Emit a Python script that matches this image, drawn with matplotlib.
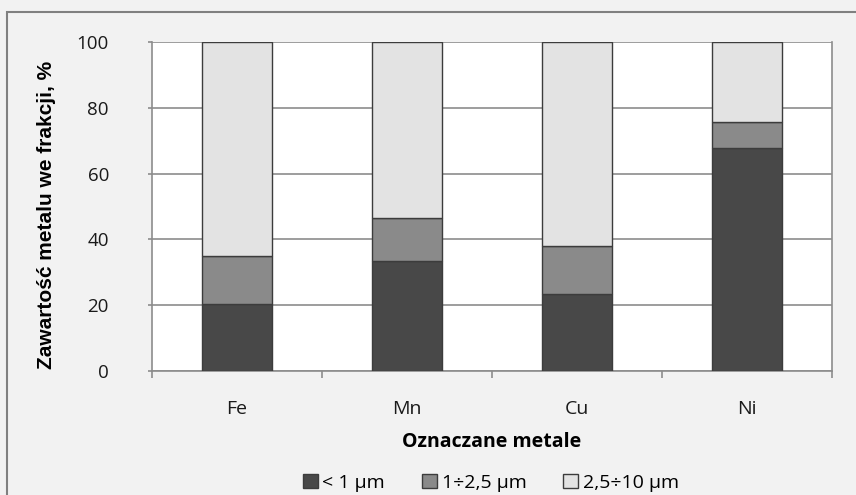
import matplotlib
matplotlib.use('Agg')
import matplotlib.pyplot as plt
from matplotlib.patches import Rectangle, Patch
import numpy as np

# Dane
metale = ['Fe', 'Mn', 'Cu', 'Ni']
frakcja_1 = [20.3, 33.4, 23.4, 67.8]     # < 1 um
frakcja_2 = [14.8, 13.0, 14.6, 7.9]      # 1÷2,5 um
frakcja_3 = [64.9, 53.6, 62.0, 24.3]     # 2,5÷10 um
etykiety = ['< 1 \u00b5m', '1\u00f72,5 \u00b5m', '2,5\u00f710 \u00b5m']
kolory = ['#484848', '#8a8a8a', '#e3e3e3']
y_ticks = [0, 20, 40, 60, 80, 100]

OPEN = ['Open Sans', 'DejaVu Sans']
plt.rcParams['font.family'] = OPEN

fig = plt.figure(figsize=(8.56, 4.95), dpi=100, facecolor='#f2f2f2')
# ramka wykresu (widoczna tylko lewa i gorna krawedz)
fig.patches.append(Rectangle((7 / 856, -0.1), 1.2, 1 - 12 / 495 + 0.1,
                             transform=fig.transFigure, fill=False,
                             edgecolor='#808080', linewidth=1.5))

ax = fig.add_axes([152 / 856, 1 - 371 / 495, 680 / 856, 329 / 495])
ax.set_facecolor('white')

x = np.arange(len(metale))
szer = 0.41
dol = np.zeros(len(metale))
for wartosci, kolor in zip([frakcja_1, frakcja_2, frakcja_3], kolory):
    ax.bar(x, wartosci, szer, bottom=dol, color=kolor, edgecolor='#3c3c3c',
           linewidth=1.0, zorder=3)
    dol += np.array(wartosci)

ax.set_xlim(-0.5, len(metale) - 0.5)
ax.set_ylim(0, 100)
ax.set_yticks(y_ticks)
ax.set_yticklabels([str(v) for v in y_ticks], fontsize=13.5, color='#1a1a1a')
ax.yaxis.grid(True, color='#8c8c8c', linewidth=1.2, zorder=0)

ax.set_xticks(x)
ax.set_xticklabels(metale, fontsize=14, color='#1a1a1a')
ax.set_xticks(np.arange(-0.5, len(metale)), minor=True)
ax.tick_params(axis='x', which='major', length=0, pad=21)
ax.tick_params(axis='x', which='minor', length=5, color='#8c8c8c', width=1.2)
ax.tick_params(axis='y', length=3, color='#8c8c8c', width=1.2, pad=28)

ax.spines['top'].set_visible(False)
for side in ['left', 'bottom', 'right']:
    ax.spines[side].set_color('#8c8c8c')
    ax.spines[side].set_linewidth(1.2)

ax.set_ylabel('Zawarto\u015b\u0107 metalu we frakcji, %', fontsize=15,
              fontweight='bold', family=['Liberation Sans', 'DejaVu Sans'],
              va='center')
ax.yaxis.set_label_coords(-(152 - 47) / 680, (371 - 215) / 329)
ax.set_xlabel('Oznaczane metale', fontsize=14, fontweight='bold')
ax.xaxis.set_label_coords(0.5, -(442 - 371) / 329)
ax.xaxis.label.set_va('center')

uchwyty = [Patch(facecolor=k, edgecolor='#3c3c3c', label=e)
           for k, e in zip(kolory, etykiety)]
fig.legend(handles=uchwyty, loc='center', bbox_to_anchor=(491 / 856, 1 - 483 / 495),
           ncol=3, frameon=False, handlelength=0.75,
           handleheight=0.75, handletextpad=0.25, columnspacing=1.9,
           borderpad=0, prop={'family': OPEN, 'size': 14})

fig.savefig('out.png', dpi=100, facecolor=fig.get_facecolor())
